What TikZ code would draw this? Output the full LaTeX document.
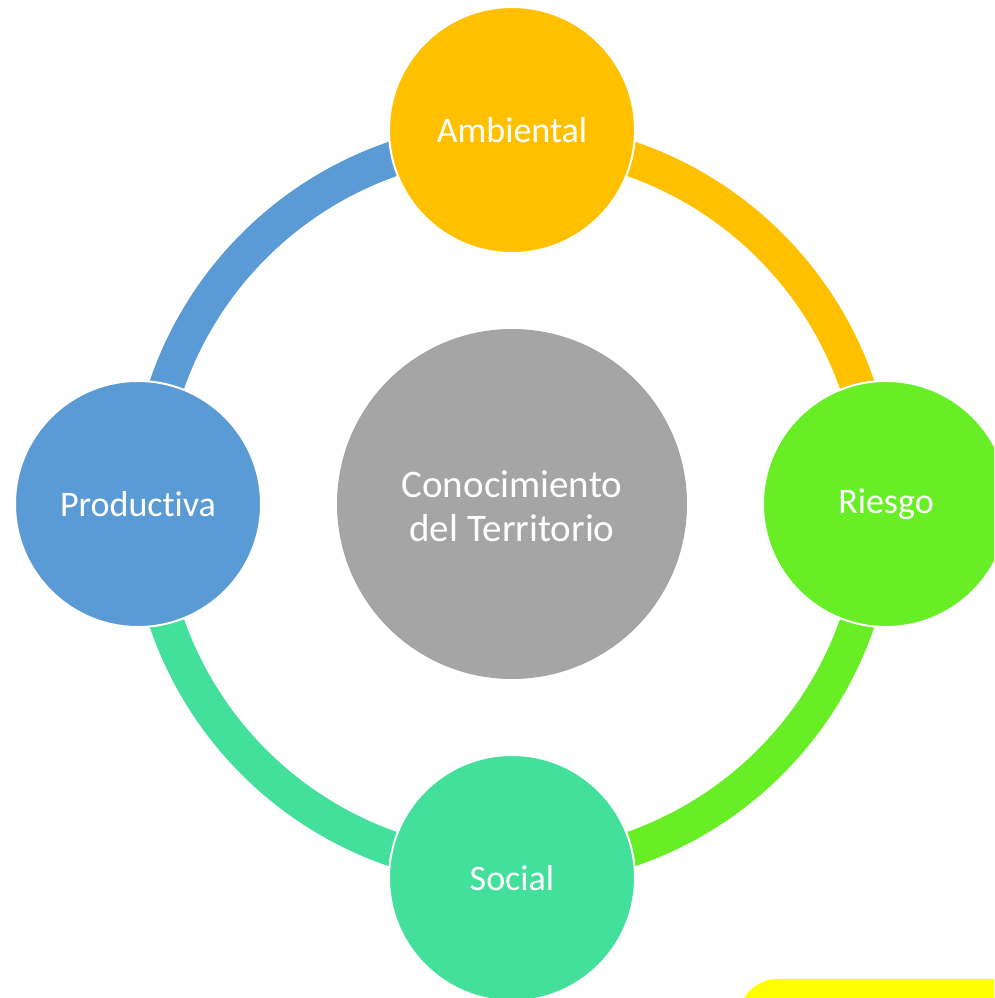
\documentclass[tikz,border=0pt]{standalone}
\usepackage{fontspec}
\setmainfont[Ligatures={NoCommon}]{Carlito}
\definecolor{cAmb}{HTML}{FFC000}
\definecolor{cRie}{HTML}{68EE25}
\definecolor{cSoc}{HTML}{42E09B}
\definecolor{cPro}{HTML}{5B9BD5}
\definecolor{cCen}{HTML}{A5A5A5}
\definecolor{cYel}{HTML}{FFFF00}
\tikzset{
  outer/.style={circle, draw=white, line width=2, minimum size=246, inner sep=0, text=white, font=\fontsize{36}{44}\selectfont},
  centre/.style={circle, fill=cCen, minimum size=350, inner sep=0, text=white, align=center, font=\fontsize{39}{44}\selectfont},
  ring/.style={line width=35}
}
\begin{document}
\begin{tikzpicture}[x=1pt,y=1pt]
\useasboundingbox (0,0) rectangle (994,998);
\clip (0,0) rectangle (994,998);
\coordinate (O) at (512,494);
% arcs
\draw[ring, cAmb] (O) ++(90:365) arc[start angle=90, end angle=0, radius=365];
\draw[ring, cRie] (O) ++(0:365) arc[start angle=0, end angle=-90, radius=365];
\draw[ring, cSoc] (O) ++(-90:365) arc[start angle=-90, end angle=-180, radius=365];
\draw[ring, cPro] (O) ++(180:365) arc[start angle=180, end angle=90, radius=365];
% nodes
\node[outer, fill=cAmb] (amb) at (512,868) {Ambiental};
\node[outer, fill=cRie] (rie) at (886,494) {Riesgo};
\node[outer, fill=cSoc] (soc) at (512,120) {Social};
\node[outer, fill=cPro] (pro) at (138,494) {Productiva};
\node[centre] (cen) at (512,494) {};
\node[text=white, align=center, font=\fontsize{39}{44}\selectfont] (cent) at (512,492) {Conocimiento\\del Territorio};
% yellow shape bottom right
\fill[cYel, rounded corners=40] (738,-60) rectangle (1100,19);
\end{tikzpicture}
\end{document}
